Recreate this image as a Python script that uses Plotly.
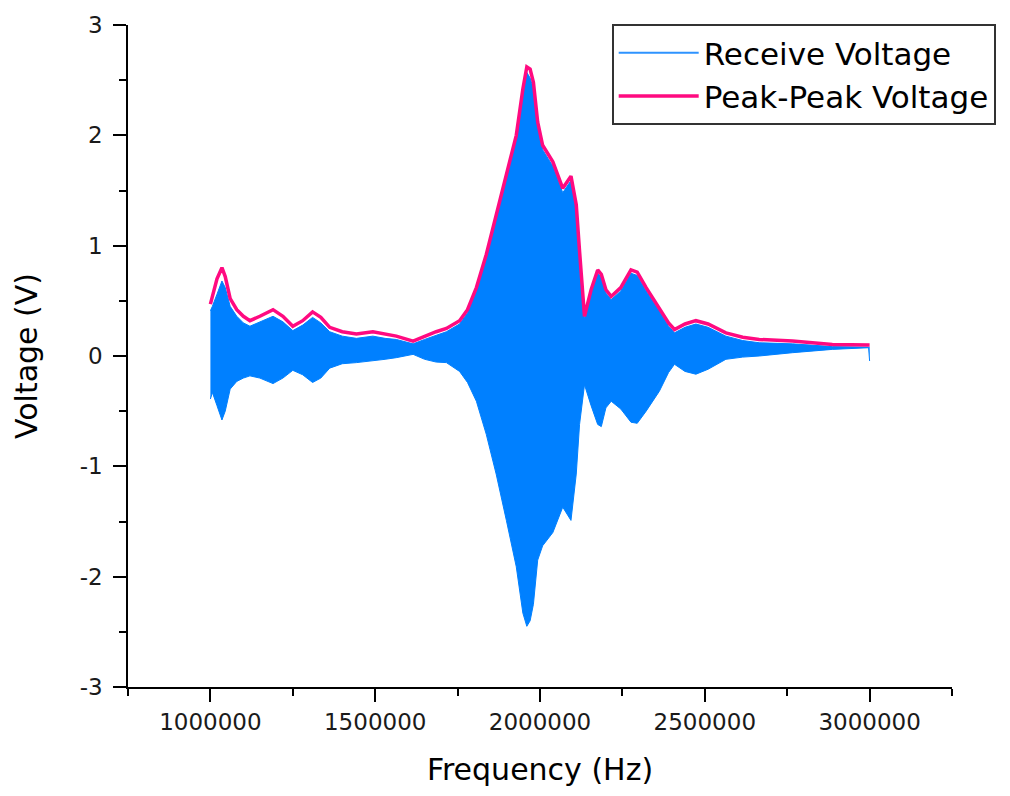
import plotly.graph_objects as go

# Swept-frequency response: received signal band and its peak envelope
freq_hz = [
    1.000e6, 1.006e6, 1.020e6, 1.035e6, 1.045e6, 1.060e6, 1.080e6, 1.100e6,
    1.120e6, 1.150e6, 1.190e6, 1.220e6, 1.250e6, 1.280e6, 1.310e6, 1.335e6,
    1.362e6, 1.400e6, 1.443e6, 1.493e6, 1.530e6, 1.564e6, 1.615e6, 1.650e6,
    1.685e6, 1.716e6, 1.756e6, 1.780e6, 1.807e6, 1.837e6, 1.867e6, 1.898e6,
    1.928e6, 1.948e6, 1.960e6, 1.970e6, 1.980e6, 1.993e6, 2.008e6, 2.039e6,
    2.069e6, 2.094e6, 2.110e6, 2.120e6, 2.135e6, 2.155e6, 2.175e6, 2.186e6,
    2.200e6, 2.216e6, 2.245e6, 2.276e6, 2.295e6, 2.322e6, 2.362e6, 2.390e6,
    2.408e6, 2.440e6, 2.473e6, 2.510e6, 2.564e6, 2.615e6, 2.665e6, 2.766e6,
    2.887e6, 2.997e6, 3.000e6,
]

# Peak-peak envelope (V)
peak_peak_v = [
    0.47, 0.55, 0.70, 0.80, 0.72, 0.52, 0.42, 0.36,
    0.32, 0.36, 0.42, 0.36, 0.27, 0.32, 0.40, 0.35,
    0.26, 0.22, 0.20, 0.22, 0.20, 0.18, 0.135, 0.18,
    0.22, 0.25, 0.32, 0.42, 0.62, 0.92, 1.27, 1.64,
    2.00, 2.42, 2.62, 2.60, 2.48, 2.12, 1.91, 1.76,
    1.52, 1.63, 1.37, 0.95, 0.36, 0.60, 0.78, 0.74,
    0.60, 0.54, 0.62, 0.78, 0.76, 0.62, 0.44, 0.30,
    0.24, 0.29, 0.32, 0.29, 0.21, 0.17, 0.15, 0.135,
    0.105, 0.10, 0.10,
]

# Upper edge of the received waveform (V)
receive_max_v = [
    0.41, 0.45, 0.56, 0.68, 0.62, 0.45, 0.36, 0.30,
    0.27, 0.31, 0.36, 0.31, 0.23, 0.28, 0.35, 0.30,
    0.22, 0.18, 0.16, 0.18, 0.16, 0.15, 0.11, 0.15,
    0.19, 0.22, 0.29, 0.39, 0.59, 0.89, 1.24, 1.61,
    1.97, 2.38, 2.57, 2.52, 2.42, 2.08, 1.87, 1.72,
    1.48, 1.59, 1.33, 0.91, 0.33, 0.57, 0.75, 0.71,
    0.57, 0.51, 0.59, 0.75, 0.73, 0.59, 0.41, 0.27,
    0.21, 0.26, 0.29, 0.26, 0.18, 0.14, 0.12, 0.11,
    0.085, 0.08, 0.08,
]

# Lower edge of the received waveform (V)
receive_min_v = [
    -0.39, -0.33, -0.45, -0.58, -0.50, -0.30, -0.23, -0.20,
    -0.18, -0.20, -0.25, -0.20, -0.13, -0.17, -0.24, -0.20,
    -0.11, -0.07, -0.06, -0.045, -0.03, -0.015, 0.015, -0.03,
    -0.055, -0.06, -0.14, -0.24, -0.41, -0.71, -1.07, -1.49,
    -1.91, -2.33, -2.45, -2.40, -2.25, -1.85, -1.72, -1.60,
    -1.37, -1.49, -1.07, -0.62, -0.26, -0.45, -0.62, -0.64,
    -0.47, -0.41, -0.48, -0.60, -0.61, -0.50, -0.32, -0.15,
    -0.075, -0.14, -0.165, -0.12, -0.03, -0.01, 0.0, 0.03,
    0.06, 0.075, -0.045,
]

x_tick_vals = [1000000, 1500000, 2000000, 2500000, 3000000]
x_tick_text = ["1000000", "1500000", "2000000", "2500000", "3000000"]
y_tick_vals = [-3, -2, -1, 0, 1, 2, 3]
y_tick_text = ["-3", "-2", "-1", "0", "1", "2", "3"]

BLUE = "#0080FF"
PINK = "#FF0A80"
FONT = "DejaVu Sans, Liberation Sans, Arial, sans-serif"

fig = go.Figure()

# Received waveform drawn as the band between its lower and upper edges
fig.add_trace(go.Scatter(
    x=freq_hz, y=receive_min_v, mode="lines",
    line=dict(color=BLUE, width=1), showlegend=False,
    legendgroup="rx", hoverinfo="skip",
))
fig.add_trace(go.Scatter(
    x=freq_hz, y=receive_max_v, mode="lines", fill="tonexty",
    fillcolor=BLUE, line=dict(color=BLUE, width=1), showlegend=False,
    legendgroup="rx", name="Receive Voltage",
))
# Legend entry for the received waveform
fig.add_trace(go.Scatter(
    x=[None], y=[None], mode="lines", name="Receive Voltage",
    line=dict(color="#2E93FF", width=2), legendgroup="rx",
))
fig.add_trace(go.Scatter(
    x=freq_hz, y=peak_peak_v, mode="lines", name="Peak-Peak Voltage",
    line=dict(color=PINK, width=3.5),
))

axis_common = dict(
    showline=True, linecolor="black", linewidth=1.5,
    ticks="outside", ticklen=13, tickwidth=1.5, tickcolor="black",
    showgrid=False, zeroline=False, mirror=False,
    tickfont=dict(family=FONT, size=23, color="#1a1a1a"),
)

fig.update_xaxes(
    range=[750000, 3250000], tickvals=x_tick_vals, ticktext=x_tick_text,
    minor=dict(ticks="outside", ticklen=7, tickwidth=1.5, tickcolor="black",
               dtick=250000, tick0=0),
    title=dict(text="Frequency (Hz)", font=dict(family=FONT, size=30, color="black"),
               standoff=25),
    ticklabelstandoff=1,
    **axis_common,
)
fig.update_yaxes(
    range=[-3, 3], tickvals=y_tick_vals, ticktext=y_tick_text,
    minor=dict(ticks="outside", ticklen=7, tickwidth=1.5, tickcolor="black",
               dtick=0.5, tick0=0),
    title=dict(text="Voltage (V)", font=dict(family=FONT, size=30, color="black"),
               standoff=33),
    ticklabelstandoff=6,
    **axis_common,
)

fig.update_layout(
    width=1010, height=796,
    margin=dict(l=128, r=58, t=23, b=109),
    paper_bgcolor="white", plot_bgcolor="white",
    legend=dict(
        x=0.587, y=1.0015, xanchor="left", yanchor="top",
        bgcolor="white", bordercolor="#333333", borderwidth=2,
        font=dict(family=FONT, size=31, color="black"),
        itemwidth=80, tracegroupgap=0,
    ),
)

fig.write_html("out.html")
